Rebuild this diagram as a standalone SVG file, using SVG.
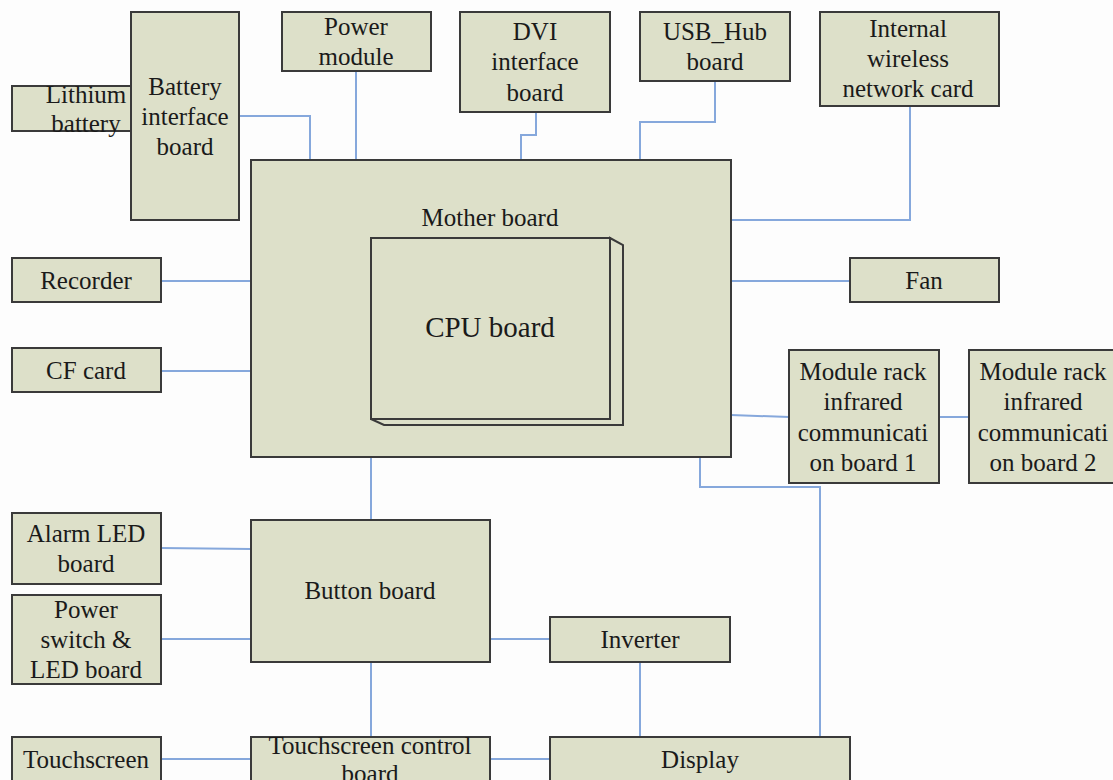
<svg xmlns="http://www.w3.org/2000/svg" width="1113" height="780" viewBox="0 0 1113 780">
<style>
.b{fill:#dde0c9;stroke:#3a3a3a;stroke-width:2}
.t{font-family:"Liberation Serif",serif;font-size:25px;fill:#1a1a1a;text-anchor:middle;dominant-baseline:central}
.c{fill:none;stroke:#86a8dc;stroke-width:2}
</style>
<rect width="1113" height="780" fill="#fdfdfd"/>
<g id="connectors">
<polyline class="c" points="239,116 310,116 310,160"/>
<polyline class="c" points="356,71 356,160"/>
<polyline class="c" points="536,112 536,135 521,135 521,160"/>
<polyline class="c" points="715,81 715,122 640,122 640,160"/>
<polyline class="c" points="910,106 910,220 731,220"/>
<polyline class="c" points="161,281 251,281"/>
<polyline class="c" points="161,371 251,371"/>
<polyline class="c" points="731,281 850,281"/>
<polyline class="c" points="731,415 789,417"/>
<polyline class="c" points="939,417 969,417"/>
<polyline class="c" points="371,457 371,520"/>
<polyline class="c" points="700,457 700,487 820,487 820,737"/>
<polyline class="c" points="161,548 251,549"/>
<polyline class="c" points="161,639 251,639"/>
<polyline class="c" points="490,639 550,639"/>
<polyline class="c" points="371,654 371,737"/>
<polyline class="c" points="640,662 640,737"/>
<polyline class="c" points="161,759 251,759"/>
<polyline class="c" points="490,759 550,759"/>
</g>
<g id="lithium"><rect class="b" x="12" y="86" width="119" height="45"/><text class="t" x="86" y="94">Lithium</text><text class="t" x="86" y="123">battery</text></g>
<g id="battery-if"><rect class="b" x="131" y="12" width="108" height="208"/><text class="t" x="185" y="86">Battery</text><text class="t" x="185" y="116">interface</text><text class="t" x="185" y="146">board</text></g>
<g id="power-module"><rect class="b" x="282" y="12" width="149" height="59"/><text class="t" x="356" y="26">Power</text><text class="t" x="356" y="56">module</text></g>
<g id="dvi"><rect class="b" x="460" y="12" width="150" height="100"/><text class="t" x="535" y="31">DVI</text><text class="t" x="535" y="61">interface</text><text class="t" x="535" y="92">board</text></g>
<g id="usb"><rect class="b" x="640" y="12" width="150" height="69"/><text class="t" x="715" y="31">USB_Hub</text><text class="t" x="715" y="61">board</text></g>
<g id="wireless"><rect class="b" x="820" y="12" width="179" height="94"/><text class="t" x="908" y="28">Internal</text><text class="t" x="908" y="58">wireless</text><text class="t" x="908" y="88">network card</text></g>
<g id="mother"><rect class="b" x="251" y="160" width="480" height="297"/><text class="t" x="490" y="217">Mother board</text></g>
<g id="cpu"><polygon fill="#dde0c9" stroke="#3a3a3a" stroke-width="2" points="610,238 623,245 623,425 384,425 371,419 610,419"/><rect class="b" x="371" y="238" width="239" height="181"/><text class="t" x="490" y="327" style="font-size:29px">CPU board</text></g>
<g id="recorder"><rect class="b" x="12" y="258" width="149" height="44"/><text class="t" x="86" y="280">Recorder</text></g>
<g id="cf"><rect class="b" x="12" y="348" width="149" height="44"/><text class="t" x="86" y="370">CF card</text></g>
<g id="fan"><rect class="b" x="850" y="258" width="149" height="44"/><text class="t" x="924" y="280">Fan</text></g>
<g id="module1"><rect class="b" x="789" y="350" width="150" height="133"/><text class="t" x="863" y="371">Module rack</text><text class="t" x="863" y="401">infrared</text><text class="t" x="863" y="432">communicati</text><text class="t" x="863" y="462">on board 1</text></g>
<g id="module2"><rect class="b" x="969" y="350" width="150" height="133"/><text class="t" x="1043" y="371">Module rack</text><text class="t" x="1043" y="401">infrared</text><text class="t" x="1043" y="432">communicati</text><text class="t" x="1043" y="462">on board 2</text></g>
<g id="alarm"><rect class="b" x="12" y="513" width="149" height="71"/><text class="t" x="86" y="533">Alarm LED</text><text class="t" x="86" y="563">board</text></g>
<g id="power-switch"><rect class="b" x="12" y="595" width="149" height="89"/><text class="t" x="86" y="609">Power</text><text class="t" x="86" y="639">switch &amp;</text><text class="t" x="86" y="669">LED board</text></g>
<g id="button"><rect class="b" x="251" y="520" width="239" height="142"/><text class="t" x="370" y="590">Button board</text></g>
<g id="inverter"><rect class="b" x="550" y="617" width="180" height="45"/><text class="t" x="640" y="639">Inverter</text></g>
<g id="touchscreen"><rect class="b" x="12" y="737" width="149" height="60"/><text class="t" x="86" y="759">Touchscreen</text></g>
<g id="ts-control"><rect class="b" x="251" y="737" width="239" height="60"/><text class="t" x="370" y="745">Touchscreen control</text><text class="t" x="370" y="773">board</text></g>
<g id="display"><rect class="b" x="550" y="737" width="300" height="60"/><text class="t" x="700" y="759">Display</text></g>
</svg>
